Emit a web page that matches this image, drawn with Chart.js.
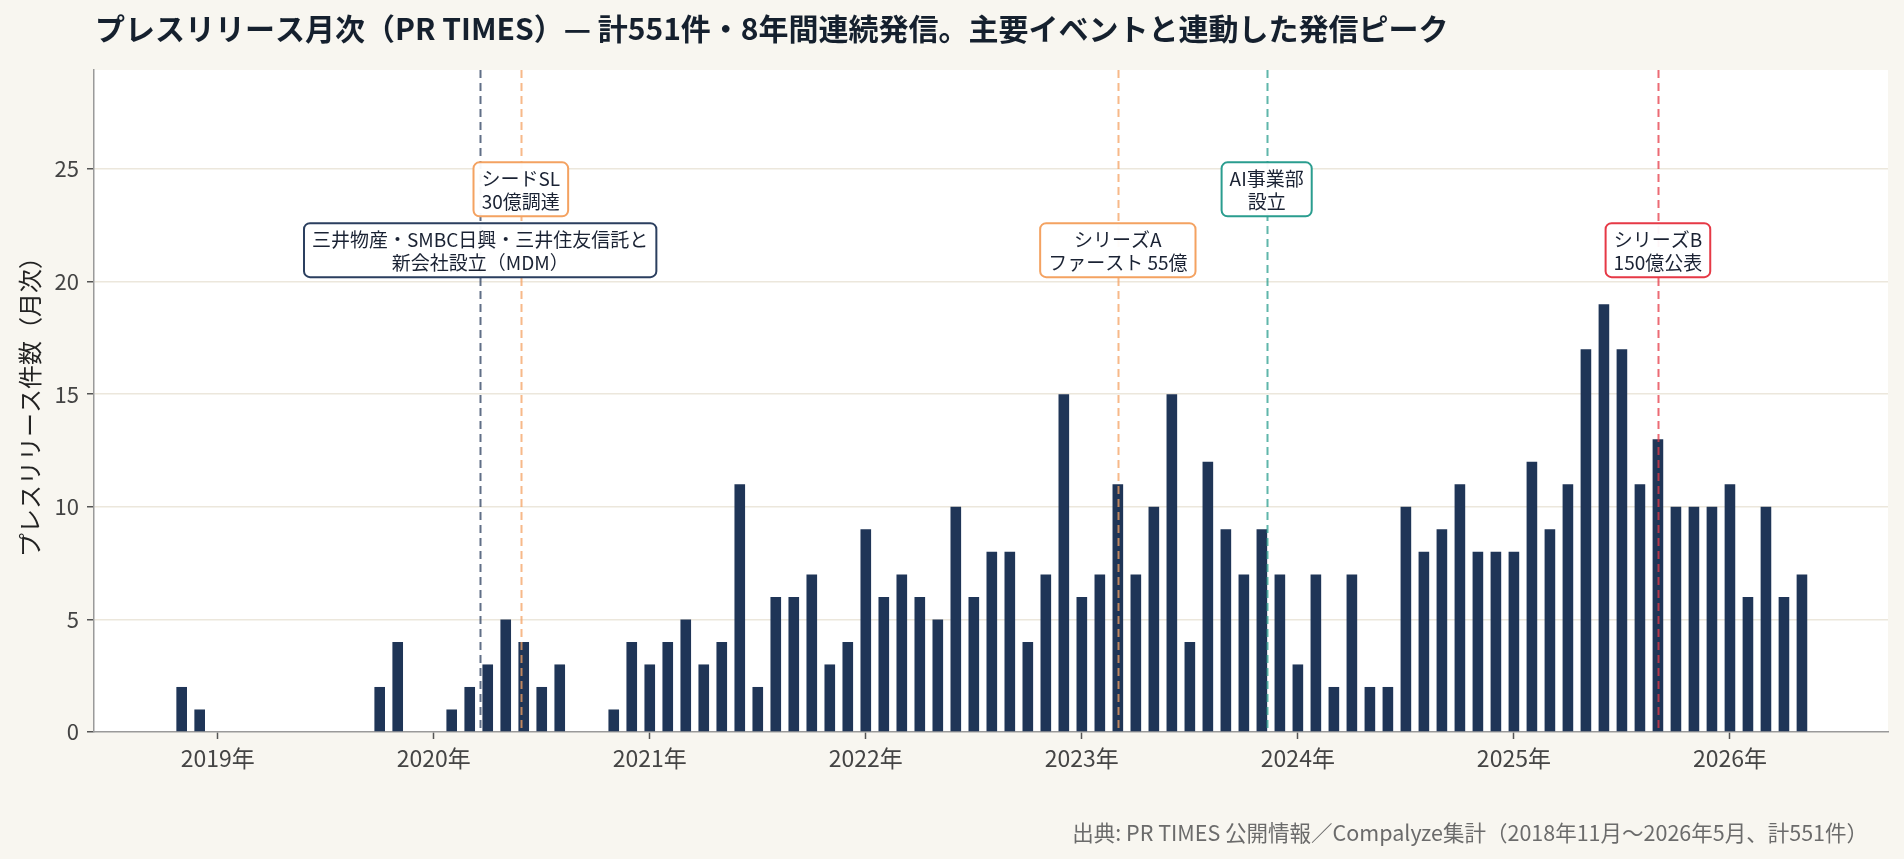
<!DOCTYPE html>
<html lang="ja">
<head>
<meta charset="utf-8">
<title>プレスリリース月次（PR TIMES）</title>
<script src="https://cdn.jsdelivr.net/npm/chart.js@4.4.1/dist/chart.umd.min.js"></script>
<style>
    html, body { margin: 0; padding: 0; background: #f8f6f0; }
    #wrap { position: relative; width: 1904px; height: 859px; }
</style>
</head>
<body>
<div id="wrap"><canvas id="prChart"></canvas></div>
<script>
// Monthly press releases on PR TIMES, 2018-11 .. 2026-05 (551 in total)
const months = [
    '2018-11', '2018-12',
    '2019-01', '2019-02', '2019-03', '2019-04', '2019-05', '2019-06', '2019-07', '2019-08', '2019-09', '2019-10', '2019-11', '2019-12',
    '2020-01', '2020-02', '2020-03', '2020-04', '2020-05', '2020-06', '2020-07', '2020-08', '2020-09', '2020-10', '2020-11', '2020-12',
    '2021-01', '2021-02', '2021-03', '2021-04', '2021-05', '2021-06', '2021-07', '2021-08', '2021-09', '2021-10', '2021-11', '2021-12',
    '2022-01', '2022-02', '2022-03', '2022-04', '2022-05', '2022-06', '2022-07', '2022-08', '2022-09', '2022-10', '2022-11', '2022-12',
    '2023-01', '2023-02', '2023-03', '2023-04', '2023-05', '2023-06', '2023-07', '2023-08', '2023-09', '2023-10', '2023-11', '2023-12',
    '2024-01', '2024-02', '2024-03', '2024-04', '2024-05', '2024-06', '2024-07', '2024-08', '2024-09', '2024-10', '2024-11', '2024-12',
    '2025-01', '2025-02', '2025-03', '2025-04', '2025-05', '2025-06', '2025-07', '2025-08', '2025-09', '2025-10', '2025-11', '2025-12',
    '2026-01', '2026-02', '2026-03', '2026-04', '2026-05'
];
const counts = [
    2, 1,
    0, 0, 0, 0, 0, 0, 0, 0, 0, 2, 4, 0,
    0, 1, 2, 3, 5, 4, 2, 3, 0, 0, 1, 4,
    3, 4, 5, 3, 4, 11, 2, 6, 6, 7, 3, 4,
    9, 6, 7, 6, 5, 10, 6, 8, 8, 4, 7, 15,
    6, 7, 11, 7, 10, 15, 4, 12, 9, 7, 9, 7,
    3, 7, 2, 7, 2, 2, 10, 8, 9, 11, 8, 8,
    8, 12, 9, 11, 17, 19, 17, 11, 13, 10, 10, 10,
    11, 6, 10, 6, 7
];
const yearTicks = [2019, 2020, 2021, 2022, 2023, 2024, 2025, 2026];
const countTicks = [0, 5, 10, 15, 20, 25];

// Key events
const eventDates = ['2020-03-19', '2020-05-27', '2023-03-01', '2023-11-09', '2025-09-01'];
const eventLabels = [
    ['三井物産・SMBC日興・三井住友信託と', '新会社設立（MDM）'],
    ['シードSL', '30億調達'],
    ['シリーズA', 'ファースト 55億'],
    ['AI事業部', '設立'],
    ['シリーズB', '150億公表']
];

const titleText = 'プレスリリース月次（PR TIMES）— 計551件・8年間連続発信。主要イベントと連動した発信ピーク';
const sourceText = '出典: PR TIMES 公開情報／Compalyze集計（2018年11月〜2026年5月、計551件）';

// Event styling (line colour, box colour, label height in counts)
const eventLineColors = ['rgba(43, 63, 95, 0.75)', 'rgba(244, 162, 97, 0.75)', 'rgba(244, 162, 97, 0.75)', 'rgba(42, 157, 143, 0.75)', 'rgba(230, 57, 70, 0.75)'];
const eventBoxColors = ['#2b3f5f', '#f4a261', '#f4a261', '#2a9d8f', '#e63946'];
const eventLabelLevels = [21.4, 24.1, 21.4, 24.1, 21.4];

const FONT = '"Noto Sans CJK JP", "Noto Sans", sans-serif';

// month string -> months since 2018-01 (day gives a fraction)
function toMonthIndex(str) {
    const [y, m, d] = str.split('-').map(Number);
    let idx = (y - 2018) * 12 + (m - 1);
    if (d) {
        const days = new Date(y, m, 0).getDate();
        idx += (d - 1) / days;
    }
    return idx;
}

// Background: cream page, white plot area
const backgroundPlugin = {
    id: 'backgroundPlugin',
    beforeDraw(chart) {
        const { ctx, chartArea: a } = chart;
        ctx.save();
        ctx.fillStyle = '#f8f6f0';
        ctx.fillRect(0, 0, chart.width, chart.height);
        ctx.fillStyle = '#ffffff';
        ctx.fillRect(a.left, a.top, a.right - a.left, a.bottom - a.top);
        ctx.restore();
    }
};

// Dashed vertical event lines over the bars
const eventLinesPlugin = {
    id: 'eventLinesPlugin',
    afterDatasetsDraw(chart) {
        const { ctx, chartArea: a, scales: { x } } = chart;
        ctx.save();
        ctx.lineWidth = 2;
        ctx.setLineDash([8, 5]);
        eventDates.forEach((d, i) => {
            const px = Math.round(x.getPixelForValue(toMonthIndex(d))) + 0.5;
            ctx.strokeStyle = eventLineColors[i];
            ctx.beginPath();
            ctx.moveTo(px, a.top);
            ctx.lineTo(px, a.bottom);
            ctx.stroke();
        });
        ctx.restore();
    }
};

function roundRect(ctx, x, y, w, h, r) {
    ctx.beginPath();
    ctx.moveTo(x + r, y);
    ctx.arcTo(x + w, y, x + w, y + h, r);
    ctx.arcTo(x + w, y + h, x, y + h, r);
    ctx.arcTo(x, y + h, x, y, r);
    ctx.arcTo(x, y, x + w, y, r);
    ctx.closePath();
}

// Event boxes, title and source note
const textPlugin = {
    id: 'textPlugin',
    afterDraw(chart) {
        const { ctx, scales: { x, y } } = chart;
        ctx.save();

        // Event labels
        const lineH = 23;
        ctx.font = '19px ' + FONT;
        ctx.textAlign = 'center';
        ctx.textBaseline = 'middle';
        eventDates.forEach((d, i) => {
            const cx = x.getPixelForValue(toMonthIndex(d));
            const cy = y.getPixelForValue(eventLabelLevels[i]);
            const lines = eventLabels[i];
            const w = Math.max(...lines.map(t => ctx.measureText(t).width)) + 16;
            const h = lines.length * lineH + 8;
            roundRect(ctx, cx - w / 2, cy - h / 2, w, h, 6);
            ctx.fillStyle = 'rgba(255, 255, 255, 0.95)';
            ctx.fill();
            ctx.lineWidth = 2;
            ctx.strokeStyle = eventBoxColors[i];
            ctx.stroke();
            ctx.fillStyle = '#1a2233';
            lines.forEach((t, j) => {
                ctx.fillText(t, cx, cy + (j - (lines.length - 1) / 2) * lineH + 1);
            });
        });

        // Title
        ctx.textAlign = 'left';
        ctx.fillStyle = '#15202e';
        ctx.font = 'bold 30px ' + FONT;
        ctx.fillText(titleText, 95, 29);

        // Source
        ctx.textAlign = 'right';
        ctx.fillStyle = '#6b6b6b';
        ctx.font = '21.5px ' + FONT;
        ctx.fillText(sourceText, 1868, 833);

        ctx.restore();
    }
};

// Setup chart
function setupChart() {
    const ctx = document.getElementById('prChart').getContext('2d');
    Chart.defaults.font.family = FONT;

    new Chart(ctx, {
        type: 'bar',
        data: {
            datasets: [{
                label: 'プレスリリース件数',
                data: months.map((m, i) => ({ x: toMonthIndex(m), y: counts[i] })),
                backgroundColor: '#1f3557',
                borderWidth: 0,
                barPercentage: 0.59,
                categoryPercentage: 1.0
            }]
        },
        options: {
            responsive: true,
            maintainAspectRatio: false,
            animation: false,
            devicePixelRatio: 1,
            layout: { padding: { left: 10, right: 16, top: 70, bottom: 0 } },
            plugins: {
                legend: { display: false },
                tooltip: { enabled: false },
                title: { display: false }
            },
            scales: {
                x: {
                    type: 'linear',
                    offset: false,
                    min: 5.13,
                    max: 104.78,
                    afterBuildTicks: axis => {
                        axis.ticks = yearTicks.map(yr => ({ value: (yr - 2018) * 12 }));
                    },
                    afterFit: scale => { scale.height = 127; },
                    grid: {
                        drawOnChartArea: false,
                        offset: false,
                        tickLength: 7,
                        tickColor: '#555555',
                        tickWidth: 1.5
                    },
                    border: { color: '#9a9a9a', width: 1.5 },
                    ticks: {
                        autoSkip: false,
                        maxRotation: 0,
                        padding: 5,
                        color: '#444444',
                        font: { size: 23 },
                        callback: v => (v / 12 + 2018) + '年'
                    }
                },
                y: {
                    min: 0,
                    max: 29.4,
                    afterBuildTicks: axis => {
                        axis.ticks = countTicks.map(v => ({ value: v }));
                    },
                    afterFit: scale => { scale.width = 84; },
                    grid: {
                        color: c => (c.tick && c.tick.value === 0) ? 'rgba(0,0,0,0)' : '#ece7dc',
                        lineWidth: 1.5,
                        tickLength: 7,
                        tickColor: '#555555',
                        tickWidth: 1.5
                    },
                    border: { color: '#9a9a9a', width: 1.5 },
                    ticks: {
                        padding: 8,
                        color: '#444444',
                        font: { size: 22 }
                    },
                    title: {
                        display: true,
                        text: 'プレスリリース件数（月次）',
                        color: '#222222',
                        font: { size: 24 },
                        padding: { top: 5, bottom: 0 }
                    }
                }
            }
        },
        plugins: [backgroundPlugin, eventLinesPlugin, textPlugin]
    });
}

document.addEventListener('DOMContentLoaded', setupChart);
</script>
</body>
</html>
